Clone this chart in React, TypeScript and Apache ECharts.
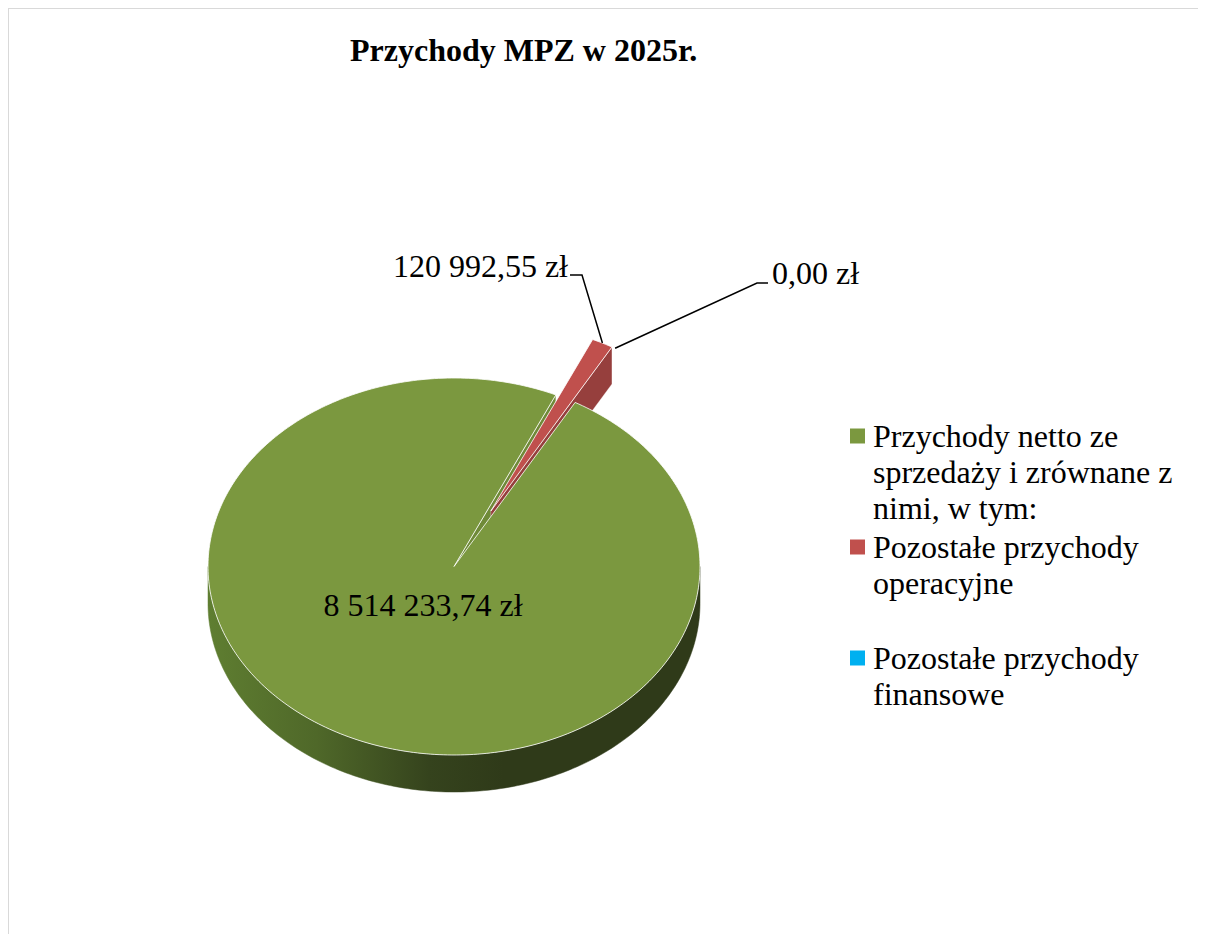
import React, { useEffect, useRef } from "react";
import * as echarts from "echarts";

const title = "Przychody MPZ w 2025r.";
const categories = [
  "Przychody netto ze sprzedaży i zrównane z nimi, w tym:",
  "Pozostałe przychody operacyjne",
  "Pozostałe przychody finansowe",
];
const values = [8514233.74, 120992.55, 0];
const legendLines = [
  ["Przychody netto ze", "sprzedaży i zrównane z", "nimi, w tym:"],
  ["Pozostałe przychody", "operacyjne", ""],
  ["Pozostałe przychody", "finansowe"],
];

const topColors = ["#7b983f", "#c0504d", "#00b0f0"];
const sideColors = ["#2f3a19", "#963f3d", "#0080b0"];
const cutColors = ["#6f8a38", "#963f3d", "#0080b0"];
const explode = [0, 0.33, 0.33];
const FONT = '"Liberation Serif", "Times New Roman", serif';

// pie geometry (chart coordinates)
const CX = 445;
const CY = 557.5;
const RX = 246;
const RY = 188.5;
const DEPTH = 37;
const START_ANGLE = 29.5;

const labelLayout = [
  { x: CX - 31, y: CY + 38.5, align: "center", leader: [] as number[][] },
  { x: 559, y: 257, align: "right", leader: [[561, 266], [573, 266]] },
  { x: 763, y: 264, align: "left", leader: [[759, 274], [748, 274]] },
];

const total = values.reduce((a, b) => a + b, 0);
const starts: number[] = [];
{
  let acc = START_ANGLE;
  for (const v of values) {
    starts.push(acc);
    acc += (v / total) * 360;
  }
}

const sinD = (a: number) => Math.sin((a * Math.PI) / 180);
const cosD = (a: number) => Math.cos((a * Math.PI) / 180);

function fmt(v: number) {
  const [i, d] = v.toFixed(2).split(".");
  return i.replace(/\B(?=(\d{3})+(?!\d))/g, " ") + "," + d + " zł";
}

function arc(P: any, lo: number, hi: number, z: number) {
  const steps = Math.max(2, Math.ceil(hi - lo));
  const pts: number[][] = [];
  for (let k = 0; k <= steps; k++) pts.push(P(lo + ((hi - lo) * k) / steps, 1, z));
  return pts;
}

const makeRender = (idx: number) => (params: any, api: any) => {
  const v = api.value(0);
  const s = starts[idx];
  const e = s + (v / total) * 360;
  const f = explode[idx];
  const m = (s + e) / 2;
  const ox = f * RX * sinD(m);
  const oy = -f * RY * cosD(m);
  const P = (a: number, r: number, z: number) => [
    CX + ox + RX * r * sinD(a),
    CY + oy - RY * r * cosD(a) + z,
  ];
  const children: any[] = [];
  const sideFill =
    idx === 0
      ? {
          type: "linear",
          x: CX - RX,
          y: 0,
          x2: CX + RX,
          y2: 0,
          global: true,
          colorStops: [
            { offset: 0, color: "#5f7e31" },
            { offset: 0.22, color: "#4f6829" },
            { offset: 0.45, color: "#35431d" },
            { offset: 0.6, color: "#2f3a19" },
            { offset: 1, color: "#2f3a19" },
          ],
        }
      : sideColors[idx];
  if (e - s > 0.001) {
    for (const k of [0, 360]) {
      const lo = Math.max(s, 90 + k);
      const hi = Math.min(e, 270 + k);
      if (hi > lo) {
        const top = arc(P, lo, hi, 0);
        const bot = arc(P, lo, hi, DEPTH).reverse();
        children.push({
          type: "polygon",
          z2: 1,
          shape: { points: top.concat(bot) },
          style: { fill: sideFill, stroke: sideFill, lineWidth: 0.5 },
        });
      }
    }
    if (sinD(e) > 0.0001) {
      children.push({
        type: "polygon",
        z2: 1,
        shape: { points: [P(e, 0, 0), P(e, 1, 0), P(e, 1, DEPTH), P(e, 0, DEPTH)] },
        style: { fill: cutColors[idx], stroke: "rgba(255,255,255,0.6)", lineWidth: 0.5 },
      });
    }
    if (sinD(s) < -0.0001) {
      children.push({
        type: "polygon",
        z2: 1,
        shape: { points: [P(s, 0, 0), P(s, 1, 0), P(s, 1, DEPTH), P(s, 0, DEPTH)] },
        style: { fill: cutColors[idx], stroke: "rgba(255,255,255,0.6)", lineWidth: 0.5 },
      });
    }
    children.push({
      type: "polygon",
      z2: 5 + idx,
      shape: { points: [P(0, 0, 0)].concat(arc(P, s, e, 0)) },
      style: { fill: topColors[idx], stroke: "rgba(255,255,255,0.8)", lineWidth: 1 },
    });
  }
  const lay = labelLayout[idx];
  if (lay.leader.length) {
    children.push({
      type: "polyline",
      z2: 20,
      shape: { points: lay.leader.concat([P(m, 1, 0)]) },
      style: { stroke: "#000", lineWidth: 1.5, fill: null },
    });
  }
  children.push({
    type: "text",
    z2: 20,
    style: {
      text: fmt(v),
      x: lay.x,
      y: lay.y,
      fontSize: 32,
      fontFamily: FONT,
      fill: "#000",
      align: lay.align,
      verticalAlign: "middle",
    },
  });
  return { type: "group", children };
};

export default function App() {
  const ref = useRef<HTMLDivElement>(null);
  useEffect(() => {
    document.documentElement.style.overflow = "hidden";
    const chart = echarts.init(ref.current!, null, { renderer: "svg" });
    const rich: any = {
      gap: { width: 8 },
      ind: { width: 23, lineHeight: 36 },
      t: { fontSize: 32, fontFamily: FONT, color: "#000", lineHeight: 36, verticalAlign: "middle" },
    };
    topColors.forEach((c, i) => {
      rich["s" + i] = { width: 15, height: 15, backgroundColor: c, verticalAlign: "middle", lineHeight: 36 };
    });
    chart.setOption({
      animation: false,
      backgroundColor: "#fff",
      title: {
        text: title,
        left: 336,
        top: 20,
        textStyle: { fontSize: 32, fontWeight: "bold", fontFamily: FONT, color: "#000" },
      },
      legend: {
        orient: "vertical",
        left: 831,
        top: 404,
        icon: "none",
        itemWidth: 0,
        itemHeight: 0,
        itemGap: 3,
        data: categories,
        textStyle: { fontSize: 32, fontFamily: FONT, color: "#000", lineHeight: 36, rich },
        formatter: (name: string) => {
          const i = categories.indexOf(name);
          return legendLines[i]
            .map((l, k) =>
              k === 0
                ? `{s${i}|}{gap|}{t|${l}}`
                : l
                ? `{ind|}{t|${l}}`
                : `{ind|}`
            )
            .join("\n");
        },
      },
      series: categories.map((name, i) => ({
        type: "custom",
        name,
        coordinateSystem: "none",
        renderItem: makeRender(i),
        data: [[values[i]]],
        itemStyle: { color: topColors[i] },
        emphasis: { disabled: true },
      })),
    });
    return () => chart.dispose();
  }, []);
  return (
    <div
      style={{
        width: 1197,
        height: 925,
        borderTop: "1px solid #d9d9d9",
        borderLeft: "1px solid #d9d9d9",
      }}
    >
      <div ref={ref} style={{ width: 1197, height: 925 }} />
    </div>
  );
}
